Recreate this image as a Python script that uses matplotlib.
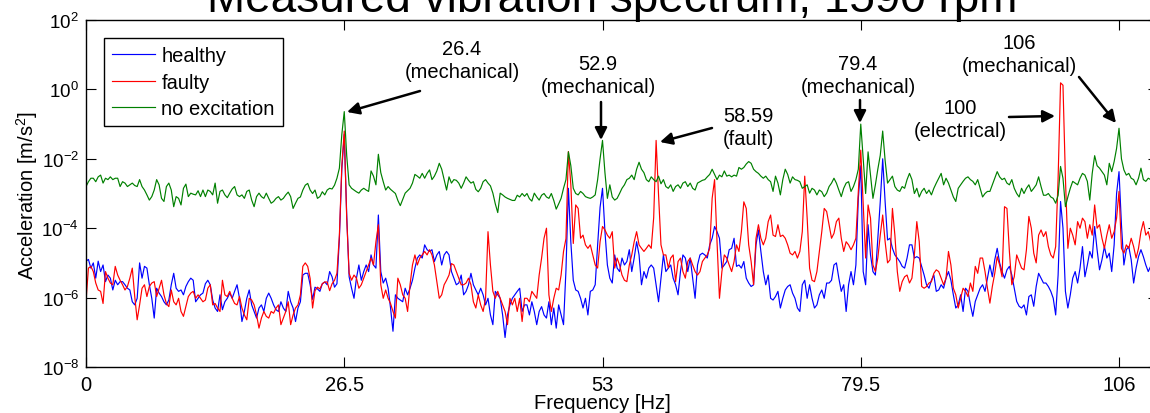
import numpy as np
import matplotlib
matplotlib.use('Agg')
import matplotlib.pyplot as plt

plt.rcParams['font.family'] = ['Liberation Sans', 'DejaVu Sans']
plt.rcParams['mathtext.fontset'] = 'custom'
plt.rcParams['mathtext.rm'] = 'Liberation Sans'
plt.rcParams['mathtext.it'] = 'Liberation Sans:italic'
plt.rcParams['mathtext.bf'] = 'Liberation Sans:bold'

# spectra, log10 of acceleration [m/s^2],
# one value every 0.25 Hz, one row = 5 Hz (0-5, 5-10, ...), last value = 110 Hz
df = 0.25

healthy_rows = [
    [-4.95, -4.9, -5.15, -5.0, -5.44, -4.95, -5.25, -5.06, -5.54, -5.35, -5.44, -5.78, -5.5, -5.63, -5.54, -5.54, -5.63, -5.73, -5.78, -6.12],
    [-6.21, -6.02, -5.0, -5.44, -5.1, -5.15, -5.63, -6.02, -6.59, -5.73, -5.87, -5.97, -6.12, -6.21, -6.07, -5.63, -5.3, -5.73, -5.82, -5.78],
    [-5.92, -5.68, -5.54, -5.44, -5.5, -6.12, -6.02, -5.92, -5.87, -5.6, -5.5, -5.63, -6.07, -6.3, -6.4, -5.92, -6.35, -6.12, -6.02, -5.87],
    [-6.02, -5.82, -5.63, -6.02, -6.69, -6.4, -6.02, -5.78, -6.21, -6.4, -6.59, -6.3, -6.21, -6.4, -6.02, -5.87, -6.02, -6.21, -6.35, -6.4],
    [-6.12, -6.3, -6.4, -5.82, -6.12, -6.3, -6.69, -6.3, -6.12, -5.35, -5.3, -5.3, -5.63, -6.05, -5.7, -5.75, -5.82, -5.6, -5.55, -5.63],
    [-5.25, -5.4, -5.7, -5.6, -4.3, -2.3, -1.3, -3.6, -5.4, -5.73, -6.02, -5.44, -5.06, -5.5, -5.25, -5.06, -5.25, -4.77, -5.06, -5.15],
    [-3.62, -5.25, -5.58, -5.44, -5.73, -6.3, -6.97, -5.92, -6.02, -6.07, -6.12, -5.73, -5.92, -5.73, -5.5, -5.15, -4.86, -4.77, -4.86, -4.48],
    [-4.62, -4.67, -4.62, -4.96, -4.77, -4.67, -5.06, -4.77, -4.67, -4.77, -5.25, -5.44, -5.63, -5.58, -5.35, -5.92, -5.82, -5.63, -5.3, -5.63],
    [-5.78, -5.92, -5.73, -5.92, -6.21, -6.02, -6.5, -6.78, -5.82, -5.92, -6.02, -6.5, -7.15, -6.5, -6.21, -6.02, -5.92, -5.82, -5.73, -6.4],
    [-6.21, -6.21, -6.5, -6.12, -6.4, -6.78, -6.4, -6.26, -6.5, -6.59, -6.12, -6.78, -6.3, -6.88, -6.21, -6.5, -6.78, -5.2, -2.85, -4.4],
    [-5.5, -5.78, -5.82, -6.02, -6.3, -6.02, -6.5, -5.82, -5.78, -5.63, -4.48, -3.4, -2.85, -4.1, -5.06, -5.44, -5.58, -4.77, -5.15, -5.25],
    [-4.86, -5.06, -4.96, -4.62, -5.25, -4.86, -4.39, -4.77, -5.63, -5.25, -5.44, -5.15, -5.06, -5.15, -5.63, -6.12, -5.44, -4.77, -5.25, -5.15],
    [-5.06, -5.44, -5.63, -5.92, -5.25, -4.77, -4.86, -5.25, -4.86, -5.44, -6.02, -5.06, -4.77, -4.72, -4.77, -4.86, -4.48, -4.29, -3.95, -4.1],
    [-4.29, -5.15, -5.06, -4.96, -4.62, -4.58, -4.29, -5.1, -5.06, -5.15, -4.96, -5.44, -5.58, -5.68, -5.63, -4.48, -4.05, -4.67, -5.25, -5.63],
    [-5.35, -6.02, -6.07, -5.97, -5.82, -6.3, -6.02, -5.78, -5.68, -5.63, -5.87, -6.02, -6.3, -6.4, -5.63, -5.5, -6.02, -5.63, -6.02, -6.3],
    [-6.21, -5.92, -5.78, -6.02, -5.58, -5.58, -5.5, -5.06, -5.0, -5.44, -5.82, -5.63, -6.4, -5.63, -5.25, -5.63, -5.06, -3.14, -2.2, -5.25],
    [-5.63, -3.9, -4.77, -5.25, -5.35, -4.29, -3.24, -2.0, -3.24, -4.34, -4.29, -4.58, -4.77, -4.86, -4.96, -5.1, -5.15, -4.86, -4.48, -4.48],
    [-4.86, -4.82, -4.86, -5.1, -5.35, -5.63, -5.73, -5.5, -5.35, -5.82, -5.78, -5.63, -5.73, -5.44, -5.25, -5.5, -5.92, -6.3, -6.21, -5.92],
    [-6.4, -5.73, -5.82, -6.21, -6.54, -6.11, -5.92, -5.73, -5.63, -5.82, -5.44, -5.06, -5.4, -4.91, -4.58, -5.0, -5.25, -5.44, -5.2, -5.1],
    [-5.35, -5.73, -6.11, -6.25, -6.3, -6.21, -6.5, -5.97, -5.92, -6.25, -5.68, -5.3, -5.44, -5.58, -5.58, -5.68, -5.82, -6.02, -6.5, -5.35],
    [-3.23, -4.0, -5.82, -6.3, -5.92, -5.44, -5.25, -5.58, -5.15, -4.53, -5.4, -5.06, -4.67, -4.86, -3.95, -4.62, -5.2, -4.91, -4.53, -4.86],
    [-4.72, -5.25, -4.48, -3.0, -2.37, -3.9, -5.06, -4.62, -4.53, -4.91, -5.58, -5.15, -4.82, -4.62, -4.82, -5.06, -5.25, -5.1, -4.9, -5.2],
    [-5.0],
]

faulty_rows = [
    [-6.1, -5.15, -5.1, -5.25, -5.58, -5.78, -5.82, -6.17, -5.25, -5.44, -5.58, -5.63, -5.1, -5.35, -5.5, -5.63, -5.78, -5.68, -5.44, -5.15],
    [-5.97, -6.64, -6.21, -5.73, -5.63, -5.97, -5.68, -5.58, -5.54, -5.97, -5.73, -5.5, -5.92, -6.17, -6.26, -5.78, -6.12, -6.21, -6.02, -6.4],
    [-6.54, -6.26, -5.97, -5.87, -5.82, -6.02, -5.92, -6.02, -6.12, -6.07, -5.73, -5.63, -6.21, -6.17, -6.3, -6.4, -5.5, -5.92, -5.97, -5.82],
    [-6.02, -6.17, -6.21, -5.97, -6.3, -6.5, -6.64, -6.02, -6.07, -6.21, -6.5, -6.88, -6.59, -6.4, -6.54, -6.59, -6.4, -6.45, -6.3, -6.21],
    [-6.78, -6.59, -6.4, -6.12, -6.78, -6.5, -6.3, -6.21, -5.92, -5.1, -5.0, -5.1, -5.45, -6.3, -5.8, -5.7, -5.75, -5.6, -5.55, -5.55],
    [-5.8, -5.6, -5.5, -5.3, -4.2, -2.2, -1.2, -3.7, -5.3, -5.5, -5.35, -5.44, -5.73, -5.63, -5.44, -5.25, -5.06, -4.86, -5.06, -4.39],
    [-3.9, -5.63, -6.02, -5.78, -6.02, -6.17, -6.4, -6.59, -5.44, -5.63, -5.92, -6.02, -6.4, -5.63, -5.06, -4.77, -5.06, -4.86, -4.77, -4.67],
    [-4.77, -4.62, -4.77, -5.06, -5.54, -6.02, -5.92, -5.63, -5.5, -5.35, -5.02, -5.06, -5.25, -5.44, -5.63, -5.63, -5.58, -5.44, -5.63, -6.12],
    [-6.3, -5.92, -6.21, -6.4, -6.02, -4.1, -5.06, -5.82, -6.02, -5.82, -6.02, -6.21, -6.4, -6.78, -6.02, -6.21, -6.02, -6.4, -6.02, -6.69],
    [-6.02, -6.02, -6.12, -5.82, -5.92, -6.02, -5.35, -4.86, -4.29, -4.0, -5.92, -6.4, -6.02, -5.73, -5.78, -5.35, -4.67, -4.3, -1.79, -2.75],
    [-4.44, -3.33, -3.43, -4.29, -4.2, -4.48, -4.58, -4.48, -4.77, -5.06, -5.15, -4.39, -3.95, -4.05, -4.2, -4.29, -4.1, -5.15, -4.86, -5.06],
    [-5.35, -5.5, -5.54, -5.06, -4.77, -4.39, -4.1, -4.48, -4.58, -4.67, -4.58, -4.48, -4.58, -3.7, -1.47, -3.04, -4.48, -4.77, -4.77, -5.15],
    [-4.86, -4.77, -5.54, -4.96, -4.86, -5.25, -5.44, -4.96, -4.86, -5.06, -5.25, -5.35, -5.25, -4.96, -4.86, -4.77, -4.58, -3.14, -2.6, -4.39],
    [-6.02, -5.25, -4.77, -4.86, -5.06, -5.25, -4.96, -4.48, -4.67, -4.1, -3.24, -3.43, -4.48, -4.96, -5.63, -4.29, -3.9, -4.29, -4.48, -4.29],
    [-3.81, -3.62, -4.2, -4.24, -3.9, -4.24, -4.2, -4.29, -4.48, -4.72, -4.77, -4.67, -4.86, -4.67, -4.1, -2.5, -3.71, -5.15, -5.5, -5.54],
    [-5.25, -4.67, -4.1, -3.43, -3.52, -3.9, -4.29, -4.15, -3.81, -3.71, -4.29, -4.67, -4.39, -4.48, -4.62, -4.48, -4.29, -2.94, -1.75, -3.33],
    [-4.86, -3.33, -3.71, -5.06, -5.25, -4.86, -4.2, -3.62, -4.39, -5.0, -4.91, -3.43, -4.2, -5.25, -5.82, -5.54, -5.4, -5.35, -5.58, -5.44],
    [-4.77, -3.81, -4.39, -5.68, -5.73, -5.68, -5.58, -5.54, -5.3, -5.2, -5.25, -5.44, -5.63, -5.44, -4.67, -5.06, -5.73, -5.92, -6.3, -6.02],
    [-5.73, -5.82, -5.97, -5.58, -5.82, -5.1, -5.3, -4.86, -4.86, -5.25, -5.73, -6.16, -5.68, -5.3, -4.82, -5.06, -5.4, -3.38, -3.43, -4.67],
    [-5.63, -5.4, -4.77, -4.96, -5.15, -5.2, -4.62, -3.66, -4.0, -4.72, -5.0, -4.2, -4.05, -4.24, -4.1, -4.53, -4.77, -4.86, -4.53, -2.56],
    [0.19, 0.12, -2.56, -4.58, -4.0, -4.2, -4.48, -3.81, -4.0, -3.71, -3.81, -4.29, -3.9, -4.2, -3.33, -4.0, -3.9, -4.29, -4.58, -4.2],
    [-3.9, -4.29, -4.1, -3.71, -2.94, -4.58, -4.72, -4.48, -4.58, -4.29, -4.53, -4.86, -4.58, -4.1, -3.81, -4.2, -4.1, -4.4, -4.2, -4.5],
    [-4.3],
]

no_excitation_rows = [
    [-2.8, -2.66, -2.56, -2.56, -2.66, -2.52, -2.47, -2.7, -2.56, -2.6, -2.52, -2.6, -2.56, -2.56, -2.8, -2.66, -2.7, -2.8, -2.75, -2.7],
    [-2.77, -2.8, -2.6, -2.8, -2.9, -3.04, -3.19, -3.09, -2.9, -2.6, -2.75, -3.14, -3.23, -2.8, -2.7, -2.9, -3.38, -3.09, -3.14, -3.33],
    [-2.85, -2.73, -3.09, -2.99, -3.02, -3.04, -2.92, -3.09, -2.9, -3.09, -2.9, -2.94, -3.04, -2.7, -3.28, -2.94, -2.9, -3.04, -3.12, -2.99],
    [-2.87, -2.8, -3.04, -3.09, -3.04, -3.14, -2.94, -2.9, -3.19, -3.38, -3.09, -2.99, -3.09, -3.14, -2.99, -3.14, -3.28, -3.23, -3.14, -3.09],
    [-3.19, -3.14, -3.04, -2.96, -3.09, -3.43, -3.28, -3.14, -3.1, -2.9, -2.76, -2.71, -2.9, -3.0, -2.9, -3.14, -3.09, -2.95, -3.04, -2.9],
    [-2.85, -2.87, -2.76, -2.56, -2.27, -1.3, -0.64, -1.9, -2.75, -2.85, -2.9, -2.95, -2.99, -2.9, -2.85, -2.9, -2.94, -2.35, -2.5, -2.75],
    [-1.87, -2.4, -2.66, -2.9, -2.8, -2.88, -2.94, -3.0, -3.2, -3.35, -3.17, -2.99, -2.92, -2.85, -2.7, -2.45, -2.5, -2.56, -2.42, -2.56],
    [-2.42, -2.32, -2.6, -2.5, -2.35, -2.13, -2.3, -2.6, -2.9, -2.52, -2.7, -2.6, -2.62, -2.7, -2.85, -2.7, -2.52, -2.62, -2.7, -2.66],
    [-2.88, -2.95, -2.85, -2.66, -2.6, -2.7, -2.78, -2.99, -3.3, -3.55, -2.99, -3.04, -3.1, -3.14, -3.17, -3.2, -3.2, -3.05, -3.1, -3.0],
    [-3.08, -3.0, -3.15, -3.22, -2.99, -3.1, -3.19, -3.05, -3.0, -3.1, -3.14, -3.0, -3.2, -3.45, -3.3, -3.14, -2.85, -2.6, -1.8, -2.2],
    [-2.85, -3.0, -3.04, -2.94, -3.0, -3.09, -3.12, -3.14, -3.1, -3.04, -2.6, -2.0, -1.47, -2.4, -3.14, -2.75, -3.1, -3.19, -3.14, -3.0],
    [-2.85, -2.75, -2.6, -2.56, -2.47, -2.6, -2.3, -2.1, -2.3, -2.4, -2.6, -2.66, -2.52, -2.6, -2.66, -2.5, -2.72, -2.6, -2.8, -2.85],
    [-2.75, -2.94, -2.8, -2.75, -2.85, -2.7, -2.66, -2.8, -2.7, -2.85, -2.9, -2.7, -2.66, -2.62, -2.6, -2.52, -2.45, -2.3, -2.45, -2.6],
    [-2.47, -2.52, -2.35, -2.5, -2.47, -2.52, -2.47, -2.5, -2.25, -2.3, -2.25, -2.15, -2.08, -2.13, -2.3, -2.37, -2.42, -2.5, -2.56, -2.5],
    [-2.6, -2.66, -2.94, -2.5, -2.7, -3.04, -2.6, -2.3, -2.45, -2.7, -2.52, -2.6, -2.62, -2.66, -2.85, -2.8, -2.75, -2.99, -2.85, -2.9],
    [-3.04, -2.9, -2.95, -3.09, -2.99, -2.8, -2.7, -2.56, -2.7, -2.9, -3.09, -2.85, -2.7, -2.66, -2.94, -2.8, -2.6, -2.3, -1.0, -2.0],
    [-3.0, -1.8, -2.47, -3.14, -2.75, -2.3, -1.9, -1.2, -2.05, -2.7, -2.6, -2.5, -2.8, -2.9, -2.94, -2.8, -2.85, -2.6, -2.42, -2.6],
    [-3.0, -2.85, -3.1, -2.94, -2.85, -3.0, -2.9, -3.04, -2.85, -2.7, -2.56, -2.42, -2.75, -2.56, -2.7, -2.9, -3.1, -3.23, -2.85, -2.75],
    [-2.65, -2.56, -2.52, -2.6, -2.65, -2.75, -2.6, -2.85, -3.1, -3.0, -2.94, -2.94, -2.75, -2.56, -2.37, -2.52, -2.6, -2.56, -2.7, -2.75],
    [-2.6, -2.85, -3.0, -3.1, -2.85, -3.0, -2.85, -2.75, -2.94, -2.85, -2.75, -2.52, -2.8, -3.05, -3.05, -3.0, -3.1, -3.14, -3.28, -3.05],
    [-2.22, -2.56, -3.38, -3.1, -2.85, -2.65, -2.7, -2.75, -2.56, -2.42, -2.47, -2.65, -3.19, -2.42, -1.91, -2.2, -2.27, -2.37, -2.47, -2.75],
    [-2.13, -2.37, -2.08, -1.7, -1.12, -2.0, -2.32, -2.47, -2.42, -2.56, -2.6, -2.75, -2.56, -2.27, -2.6, -2.65, -2.56, -2.6, -2.5, -2.65],
    [-2.55],
]

xtick_values = [0, 26.5, 53, 79.5, 106]
xtick_labels = ['0', '26.5', '53', '79.5', '106']
ytick_exponents = [-8, -6, -4, -2, 0, 2]

# annotation texts, text centre (px from top-left), arrow tail and head (px)
notes = [
    ('26.4\n(mechanical)', (462, 61), (420, 92), (347, 113)),
    ('52.9\n(mechanical)', (598, 76), (601, 103), (601, 141)),
    ('58.59\n(fault)', (748, 128), (712, 129), (660, 143)),
    ('79.4\n(mechanical)', (858, 76), (860, 101), (860, 124)),
    ('106\n(mechanical)', (1019, 55), (1079, 78), (1116, 124)),
    ('100\n(electrical)', (960, 120), (1009, 118), (1055, 117)),
]


def flatten(rows):
    for r in rows[:-1]:
        assert len(r) == 20, len(r)
    return np.array([v for r in rows for v in r])


healthy = flatten(healthy_rows)
faulty = flatten(faulty_rows)
no_excitation = flatten(no_excitation_rows)
freq = df * np.arange(len(healthy))

FS = 14.5
W, H = 1150, 414
fig = plt.figure(figsize=(W / 100, H / 100), dpi=100)
x0, x1, y0, y1 = 86, 1158, 21, 368
ax = fig.add_axes([x0 / W, 1 - y1 / H, (x1 - x0) / W, (y1 - y0) / H])

ax.semilogy(freq, 10.0 ** healthy, color='#0000ff', lw=0.85, label='healthy')
ax.semilogy(freq, 10.0 ** faulty, color='#ff0000', lw=0.85, label='faulty')
ax.semilogy(freq, 10.0 ** no_excitation, color='#008000', lw=0.85, label='no excitation')

ax.set_xlim(0, 110)
ax.set_ylim(1e-8, 1e2)
ax.set_xticks(xtick_values)
ax.set_xticklabels(xtick_labels)
ax.set_yticks([10.0 ** e for e in ytick_exponents])
ax.set_yticklabels(['$10^{%d}$' % e for e in ytick_exponents])
ax.minorticks_off()
ax.tick_params(direction='in', length=7, width=0.8, top=True, right=True,
               labelsize=FS, pad=6, colors='black')
ax.tick_params(axis='y', labelsize=13.5, pad=5)
for s in ax.spines.values():
    s.set_linewidth(1.0)

leg = ax.legend(loc='upper left', bbox_to_anchor=(0.0168, 0.948), borderaxespad=0,
                fontsize=FS, handlelength=2.15, handletextpad=0.3, labelspacing=0.38,
                borderpad=0.4, fancybox=False, framealpha=1, edgecolor='black')
leg.get_frame().set_linewidth(1.0)

fig.text(612 / W, 1 - 12 / H, 'Measured vibration spectrum, 1590 rpm', fontsize=33,
         ha='center', va='baseline')
fig.text(602 / W, 1 - 404 / H, 'Frequency [Hz]', fontsize=FS, ha='center', va='center')
fig.text(27 / W, 1 - 195 / H, 'Acceleration [m/s$^{2}$]', fontsize=14.5, rotation=90,
         ha='center', va='center')

for txt, (tx, ty), (ax0, ay0), (ax1, ay1) in notes:
    fig.text(tx / W, 1 - ty / H, txt, fontsize=FS, ha='center', va='center',
             linespacing=1.3)
    ax.annotate('', xy=(ax1, H - ay1), xycoords='figure pixels',
                xytext=(ax0, H - ay0), textcoords='figure pixels',
                arrowprops=dict(arrowstyle='-|>', color='black', lw=1.8,
                                mutation_scale=18, shrinkA=0, shrinkB=0))

fig.savefig('out.png', dpi=100)
